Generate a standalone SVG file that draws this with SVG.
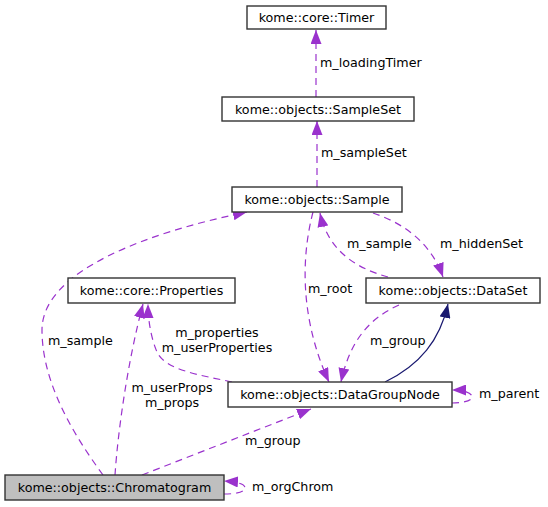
<svg xmlns="http://www.w3.org/2000/svg" width="548" height="507" viewBox="0 0 548 507">
<style>
text{font-family:"DejaVu Sans","Liberation Sans",sans-serif;font-size:12.7px;fill:#000}
.n text{text-anchor:middle}
.n rect{fill:#fff;stroke:#333;stroke-width:1.4}
.n rect.hl{fill:#bfbfbf}
.e path{fill:none;stroke:#9a32cd;stroke-width:1.2;stroke-dasharray:7,5;marker-end:url(#ap)}
.e path.inh{stroke:#191970;stroke-dasharray:none;marker-end:url(#an)}
.c{text-anchor:middle}
</style>
<defs>
<marker id="ap" viewBox="0 0 14 11" refX="14" refY="5.5" markerWidth="14" markerHeight="11" markerUnits="userSpaceOnUse" orient="auto"><path d="M0,0 L14,5.5 L0,11 z" fill="#9a32cd"/></marker>
<marker id="an" viewBox="0 0 14 11" refX="14" refY="5.5" markerWidth="14" markerHeight="11" markerUnits="userSpaceOnUse" orient="auto"><path d="M0,0 L14,5.5 L0,11 z" fill="#191970"/></marker>
</defs>
<g class="e" id="connectors">
<path d="M316,97 L316,30"/>
<path d="M317,187 L317,121"/>
<path d="M103,475 C70,430 42,380 42,330 C42,270 150,232 247,212"/>
<path d="M115,475 C118,430 128,360 143,304"/>
<path d="M232,382 C200,375 165,370 157,352 C151,338 148,320 148,304"/>
<path d="M142,475 L311,409"/>
<path d="M313,212 C298,270 305,330 329,382"/>
<path d="M399,305 C370,318 350,340 341,382"/>
<path class="inh" d="M385,382 C420,365 440,340 448,304"/>
<path d="M388,277 C355,268 328,250 320,213"/>
<path d="M373,213 C400,222 430,240 443,277"/>
<path d="M452,403 C462,403 472,401 472,397 C472,393 465,390 452,390"/>
<path d="M224,494 C236,494 245,492 245,488 C245,484 238,482 224,481"/>
<text x="320" y="67">m_loadingTimer</text>
<text x="321" y="157">m_sampleSet</text>
<text x="48" y="345">m_sample</text>
<text class="c" x="172" y="392">m_userProps</text>
<text class="c" x="172" y="407">m_props</text>
<text class="c" x="217" y="337">m_properties</text>
<text class="c" x="217" y="352">m_userProperties</text>
<text x="245" y="445">m_group</text>
<text x="308" y="293">m_root</text>
<text x="370" y="345">m_group</text>
<text x="347" y="248">m_sample</text>
<text x="440" y="248">m_hiddenSet</text>
<text x="479" y="398">m_parent</text>
<text x="252" y="491">m_orgChrom</text>
</g>
<g class="n" id="timer"><rect x="247" y="6" width="139" height="23"/><text x="316.5" y="22">kome::core::Timer</text></g>
<g class="n" id="sampleset"><rect x="222" y="97" width="192" height="24"/><text x="318" y="113.5">kome::objects::SampleSet</text></g>
<g class="n" id="sample"><rect x="232" y="187" width="170" height="25"/><text x="317" y="204">kome::objects::Sample</text></g>
<g class="n" id="properties"><rect x="68" y="278" width="167" height="25"/><text x="151.5" y="295">kome::core::Properties</text></g>
<g class="n" id="dataset"><rect x="366" y="278" width="174" height="25"/><text x="453" y="295">kome::objects::DataSet</text></g>
<g class="n" id="datagroupnode"><rect x="228" y="382" width="224" height="25"/><text x="340" y="399">kome::objects::DataGroupNode</text></g>
<g class="n" id="chromatogram"><rect class="hl" x="5" y="475" width="219" height="25"/><text x="114.5" y="492">kome::objects::Chromatogram</text></g>
</svg>
